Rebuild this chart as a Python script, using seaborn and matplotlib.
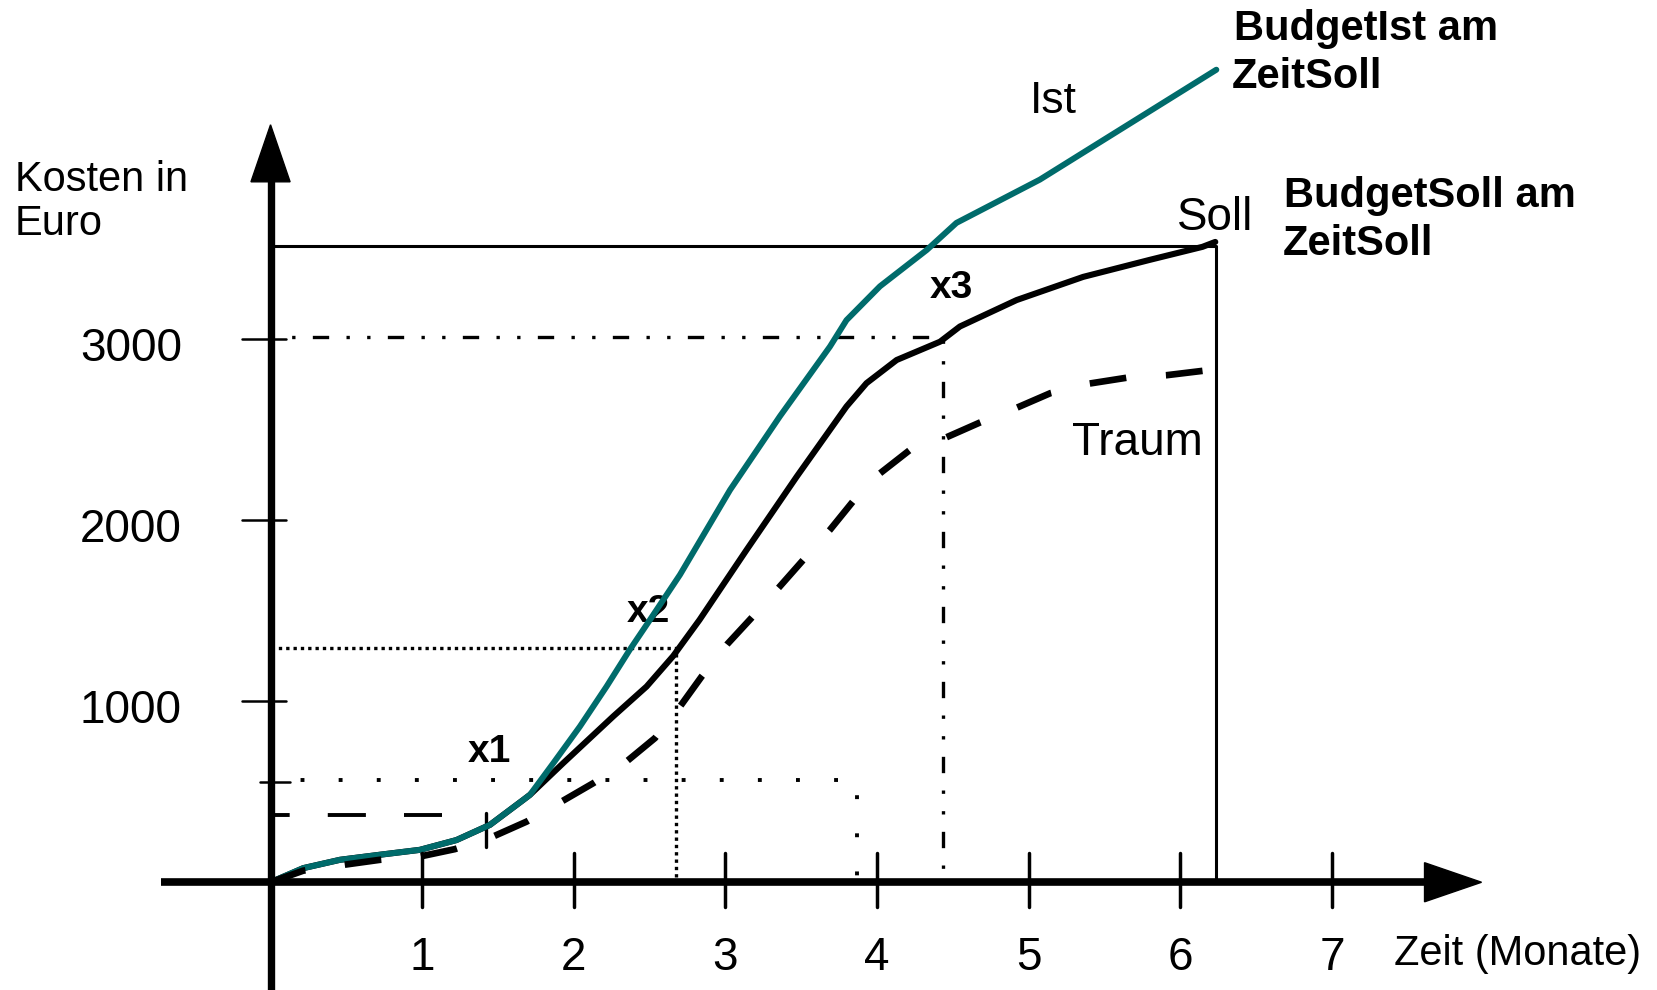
import matplotlib
matplotlib.use("Agg")
import matplotlib.pyplot as plt
import numpy as np
import seaborn as sns

# --- data (months, euro) ---
months_ist = [0.0, 0.216, 0.458, 0.722, 0.985, 1.226, 1.447, 1.667, 1.711, 1.865,
              2.040, 2.216, 2.369, 2.502, 2.700, 3.030, 3.359, 3.689, 3.798,
              4.019, 4.328, 4.523, 5.073, 6.237]
kosten_ist = [0, 78, 124, 152, 179, 233, 317, 455, 483, 658,
              860, 1081, 1284, 1449, 1698, 2166, 2573, 2958, 3104,
              3291, 3492, 3641, 3880, 4487]

months_soll = [0.0, 0.216, 0.458, 0.722, 0.985, 1.226, 1.447, 1.667, 1.711, 1.930,
               2.260, 2.480, 2.655, 2.829, 3.139, 3.470, 3.798, 3.930, 4.129,
               4.415, 4.546, 4.920, 5.359, 5.798, 6.146, 6.230]
kosten_soll = [0, 78, 124, 152, 179, 233, 317, 455, 483, 658,
               916, 1081, 1249, 1449, 1835, 2240, 2627, 2756, 2884,
               2985, 3069, 3215, 3343, 3437, 3509, 3536]

months_traum = [0.0, 0.216, 0.480, 0.722, 0.985, 1.216, 1.469, 1.689, 1.920, 2.128,
                2.348, 2.535, 2.700, 2.843, 3.010, 3.171, 3.359, 3.512, 3.689,
                3.840, 4.019, 4.216, 4.446, 4.676, 4.920, 5.143, 5.401, 5.645,
                5.909, 6.146]
kosten_traum = [0, 64, 96, 124, 142, 183, 253, 335, 446, 547,
                667, 796, 970, 1136, 1313, 1459, 1634, 1779, 1946,
                2102, 2258, 2387, 2453, 2538, 2620, 2701, 2754, 2786,
                2800, 2824]

x_ticks = [1, 2, 3, 4, 5, 6, 7]
y_ticks = [1000, 2000, 3000]

zeit_soll, budget_soll = 6.237, 3515
x1_month, x1_cost = 3.868, 566
x2_month, x2_cost = 2.673, 1295
x3_month, x3_cost = 4.432, 3010
start_cost, start_end, start_tick = 373, 1.13, 1.422

TEAL = "#006b6b"

sns.set_style("white")
plt.rcParams["font.family"] = ["Liberation Sans", "DejaVu Sans"]
plt.rcParams["text.color"] = "black"

fig = plt.figure(figsize=(16.57, 9.90), dpi=100)
ax = fig.add_axes([0, 0, 1, 1])
ax.set_xlim(-1.784, 9.143)
ax.set_ylim(-595, 4872)
ax.axis("off")

# guide lines
ax.plot([0, zeit_soll, zeit_soll], [budget_soll, budget_soll, 0], color="black", lw=2.2, zorder=1)
ax.plot([0, x3_month, x3_month], [x3_cost, x3_cost, 0], color="black", lw=2.4,
        linestyle=(0, (1, 5.2, 1, 5.2, 4.9, 5.2)), zorder=1)
ax.plot([0, x2_month, x2_month], [x2_cost, x2_cost, 0], color="black", lw=2.4,
        linestyle=(0, (1, 1.2)), zorder=1)
ax.plot([0, x1_month, x1_month], [x1_cost, x1_cost, 0], color="black", lw=2.8,
        linestyle=(2.2, (1, 8.8)), zorder=1)
ax.plot([0, start_end], [start_cost, start_cost], color="black", lw=2.8,
        linestyle=(5.0, (9.8, 9.8)), zorder=1)
ax.plot([start_tick, start_tick], [195, start_cost + 12], color="black", lw=2.4, zorder=1)

# dash pattern for the Traum curve: fit so that it starts and ends on a dash
traum_lw = 4.8
pts = ax.transData.transform(np.column_stack([months_traum, kosten_traum]))
length_pt = np.sum(np.hypot(*np.diff(pts, axis=0).T)) * 72 / fig.dpi
dash_pt, gap_pt = 26.0, 28.0
n = round((length_pt - dash_pt) / (dash_pt + gap_pt))
s = length_pt / (n * (dash_pt + gap_pt) + dash_pt)
traum_style = (0, (s * dash_pt / traum_lw, s * gap_pt / traum_lw))

# curves
sns.lineplot(x=months_soll, y=kosten_soll, ax=ax, color="black", lw=4.4,
             estimator=None, sort=False, zorder=2)
sns.lineplot(x=months_ist, y=kosten_ist, ax=ax, color=TEAL, lw=4.3,
             estimator=None, sort=False, zorder=3)
sns.lineplot(x=months_traum, y=kosten_traum, ax=ax, color="black", lw=traum_lw,
             linestyle=traum_style, estimator=None, sort=False, zorder=4)

# axes with arrows
ax.plot([-0.72, 7.65], [0, 0], color="black", lw=5.5, solid_capstyle="butt", zorder=5)
ax.fill([7.61, 7.986, 7.61], [108, 0, -108], color="black", zorder=5)
ax.plot([0, 0], [-650, 3900], color="black", lw=5.3, solid_capstyle="butt", zorder=5)
ax.fill([-0.129, 0, 0.129], [3868, 4183, 3868], color="black", zorder=5)

for t in x_ticks:
    ax.plot([t, t], [-134, 160], color="black", lw=2.5, zorder=5)
    ax.text(t, -484, str(t), fontsize=33, ha="center", va="baseline")
for t in y_ticks:
    ax.plot([-0.188, 0.105], [t, t], color="black", lw=1.8, zorder=5)
    ax.text(-0.585, t - 120, str(t), fontsize=33, ha="right", va="baseline")
ax.plot([-0.07, 0.13], [x1_cost - 10, x1_cost - 10], color="black", lw=1.8, zorder=5)

# labels
ax.text(-1.686, 3816, "Kosten in", fontsize=30, va="baseline")
ax.text(-1.686, 3576, "Euro", fontsize=30, va="baseline")
ax.text(7.408, -455, "Zeit (Monate)", fontsize=30, va="baseline")
ax.text(5.010, 4247, "Ist", fontsize=32, va="baseline")
ax.text(5.979, 3602, "Soll", fontsize=33, va="baseline")
ax.text(5.282, 2357, "Traum", fontsize=33, va="baseline")
ax.text(6.355, 4650, "BudgetIst am", fontsize=30, fontweight="bold", va="baseline")
ax.text(6.341, 4384, "ZeitSoll", fontsize=30, fontweight="bold", va="baseline")
ax.text(6.686, 3730, "BudgetSoll am", fontsize=30, fontweight="bold", va="baseline")
ax.text(6.676, 3466, "ZeitSoll", fontsize=30, fontweight="bold", va="baseline")
ax.text(1.303, 665, "x1", fontsize=28, fontweight="bold", va="baseline")
ax.text(2.348, 1435, "x2", fontsize=28, fontweight="bold", va="baseline", zorder=2)
ax.text(4.348, 3226, "x3", fontsize=28, fontweight="bold", va="baseline")

fig.savefig("out.png", dpi=100)
